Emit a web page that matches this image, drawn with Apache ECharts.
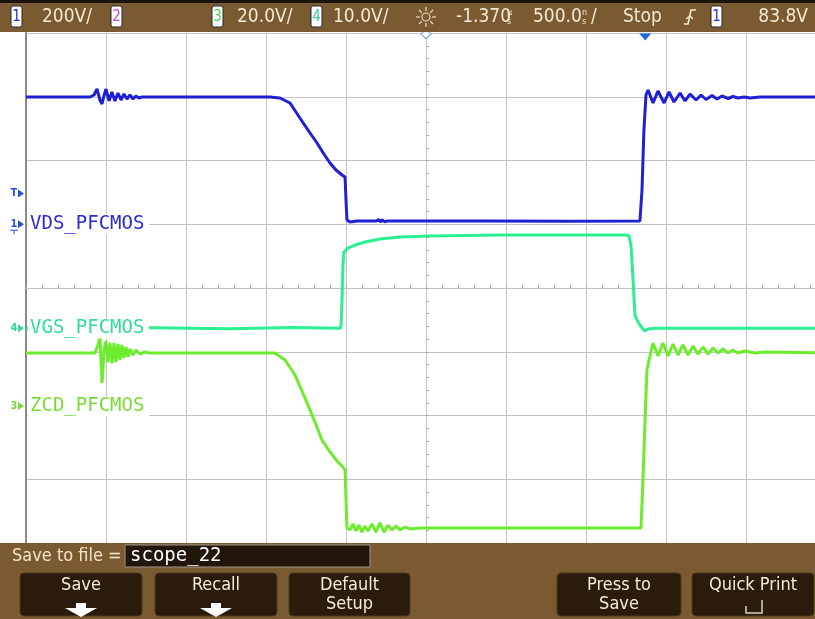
<!DOCTYPE html>
<html><head><meta charset="utf-8">
<script src="https://cdn.jsdelivr.net/npm/echarts@6/dist/echarts.min.js"></script>
<style>html,body{margin:0;padding:0;background:#fff}#c{width:815px;height:619px}</style>
</head><body><div id="c"></div>
<script>
// ---- scope settings ----
const timePerDiv = 0.5;                          // µs (500 ns/div)
const timeMin = -3.87;                           // µs at left edge (delay -1.370 µs)
const visibleDivs = 9.8625;                      // screen is cut at the right edge
const timeMax = timeMin + visibleDivs * timePerDiv;
const ch1Scale = 200, ch4Scale = 10, ch3Scale = 20;   // V/div
const ch1Offset = 5.0, ch4Offset = 3.37, ch3Offset = 2.15; // ground position, div from bottom
const triggerLevel = 83.8;   // V on channel 1
const channelLabels = ['VDS_PFCMOS', 'VGS_PFCMOS', 'ZCD_PFCMOS'];
const topInfo = ['200V/', '20.0V/', '10.0V/', '-1.370', '500.0', 'Stop', '83.8V'];
const softKeys = [['Save', ''], ['Recall', ''], ['Default', 'Setup'], ['Press to', 'Save'], ['Quick Print', '']];
const fileName = 'scope_22';

// ---- waveforms: [time µs, volts] ----
const vds = [[-3.870,399.2],[-3.470,399.2],[-3.445,405.5],[-3.426,424.3],[-3.408,389.8],[-3.395,377.2],[-3.383,402.4],[-3.370,424.3],[-3.351,386.7],[-3.333,415.0],[-3.314,386.7],[-3.295,411.7],[-3.276,389.8],[-3.258,408.6],[-3.239,392.9],[-3.220,405.5],[-3.201,392.9],[-3.183,402.4],[-3.164,396.1],[-3.145,399.2],
[-2.345,399.2],[-2.283,396.1],[-2.220,380.4],[-2.158,333.3],[-2.108,295.7],[-2.051,254.9],[-2.008,220.4],[-1.970,192.2],[-1.933,170.3],[-1.895,154.6],[-1.876,148.3],[-1.870,76.1],[-1.864,13.3],[-1.845,7.1],[-1.800,10.2],[-1.680,10.2],[-1.665,15.0],[-1.655,7.0],[-1.645,14.0],[-1.630,8.0],[-1.610,10.2],[-1.000,10.2],[-0.500,9.5],[-0.033,10.2],
[-0.020,107.5],[-0.008,295.7],[0.005,405.5],[0.018,421.2],[0.049,380.4],[0.080,418.1],[0.118,380.4],[0.149,415.0],[0.180,383.5],[0.218,411.7],[0.249,386.7],[0.280,408.6],[0.318,389.8],[0.349,405.5],[0.380,391.4],[0.418,403.9],[0.449,392.9],[0.480,402.4],[0.518,394.5],[0.549,400.8],[0.580,396.1],[0.618,399.2],[0.655,396.1],[0.718,399.2],[1.130,399.2]];

const vgs = [[-3.870,0.0],[-3.20,0.1],[-2.60,-0.1],[-2.20,0.1],[-1.907,0.0],[-1.901,0.34],[-1.895,4.4],[-1.889,9.9],[-1.883,11.95],[-1.858,12.57],[-1.814,13.04],[-1.751,13.52],[-1.658,13.99],[-1.533,14.3],[-1.345,14.46],[-0.908,14.61],[-0.283,14.61],[-0.120,14.61],[-0.101,14.46],[-0.089,13.04],[-0.076,7.55],[-0.064,2.06],[-0.045,0.97],[-0.020,0.0],[-0.001,-0.45],[0.018,-0.13],[0.061,0.0],[1.130,0.0]];

const zcd = [[-3.870,16.61],[-3.439,16.61],[-3.420,19.11],[-3.408,21.30],[-3.401,14.41],[-3.395,7.20],[-3.389,11.27],[-3.383,17.55],[-3.370,20.38],[-3.358,13.78],[-3.345,19.74],[-3.333,13.47],[-3.320,19.74],[-3.308,13.78],[-3.295,19.43],[-3.283,14.41],[-3.270,19.11],[-3.258,15.04],[-3.245,18.49],[-3.233,15.35],[-3.220,17.86],[-3.201,15.98],[-3.183,17.55],[-3.158,16.29],[-3.126,16.93],[-3.095,16.61],
[-2.314,16.61],[-2.251,14.41],[-2.189,9.71],[-2.126,2.49],[-2.064,-5.04],[-2.020,-10.68],[-1.970,-14.45],[-1.926,-17.27],[-1.889,-19.15],[-1.876,-20.10],[-1.870,-29.50],[-1.864,-38.30],[-1.845,-38.90],[-1.826,-37.00],[-1.808,-39.20],[-1.789,-37.40],[-1.770,-39.60],[-1.751,-37.70],[-1.733,-39.20],[-1.708,-37.00],[-1.683,-39.60],[-1.658,-36.70],[-1.633,-39.60],[-1.608,-37.40],[-1.583,-38.90],[-1.558,-37.70],[-1.533,-38.90],[-1.501,-38.00],[-1.470,-38.60],[-1.408,-38.30],[-0.026,-38.30],
[-0.014,-23.20],[-0.001,-4.40],[0.011,11.27],[0.024,14.41],[0.049,19.74],[0.080,15.67],[0.111,19.74],[0.143,15.67],[0.174,19.43],[0.205,15.98],[0.236,19.11],[0.268,15.98],[0.299,18.80],[0.330,16.29],[0.361,18.49],[0.393,16.29],[0.424,18.18],[0.455,16.61],[0.486,17.86],[0.518,16.61],[0.549,17.55],[0.580,16.61],[0.624,17.24],[0.686,16.61],[0.749,16.93],[1.130,16.61]];

// ---- chart ----
const BLUE = '#1f1fd6', MINT = '#2cef90', LIME = '#6cec2c';
const GRIDC = '#c4c4c4';
const NARROW = "'Liberation Sans Narrow','DejaVu Sans Condensed',sans-serif";
const MONO = "'DejaVu Sans Mono',monospace";
const chart = echarts.init(document.getElementById('c'), null, {renderer: 'canvas'});
const hiddenY = (off, sc) => ({type: 'value', min: -off * sc, max: (8 - off) * sc, show: false, splitLine: {show: false}});
chart.setOption({
  animation: false,
  backgroundColor: '#ffffff',
  grid: {left: 26, top: 33, right: 0, height: 510, show: false},
  xAxis: [
    {type: 'value', min: timeMin, max: timeMax, show: false, splitLine: {show: false}},
    {type: 'value', min: -5, max: visibleDivs - 5, interval: 1, position: 'bottom',
      axisLabel: {show: false}, splitLine: {show: true, lineStyle: {color: GRIDC, width: 1}},
      axisLine: {show: true, onZero: true, onZeroAxisIndex: 0, lineStyle: {color: GRIDC, width: 1}},
      axisTick: {show: true, inside: true, length: 3, lineStyle: {color: '#a8a8a8'}},
      minorTick: {show: true, splitNumber: 5, length: 3, lineStyle: {color: '#a8a8a8'}}}
  ],
  yAxis: [
    {type: 'value', min: -4, max: 4, interval: 1,
      axisLabel: {show: false}, splitLine: {show: true, lineStyle: {color: GRIDC, width: 1}},
      axisLine: {show: true, onZero: true, onZeroAxisIndex: 1, lineStyle: {color: GRIDC, width: 1}},
      axisTick: {show: true, inside: true, length: 3, lineStyle: {color: '#a8a8a8'}},
      minorTick: {show: true, splitNumber: 5, length: 3, lineStyle: {color: '#a8a8a8'}}},
    hiddenY(ch1Offset, ch1Scale),
    hiddenY(ch4Offset, ch4Scale),
    hiddenY(ch3Offset, ch3Scale),
    {type: 'value', min: 0, max: 1, position: 'left', axisLabel: {show: false}, axisTick: {show: false}, splitLine: {show: false},
      axisLine: {show: true, onZero: false, lineStyle: {color: '#8a8a8a', width: 2}}}
  ],
  series: [
    {name: channelLabels[2], type: 'line', xAxisIndex: 0, yAxisIndex: 3, data: zcd, showSymbol: false, lineStyle: {color: LIME, width: 3}, z: 3},
    {name: channelLabels[1], type: 'line', xAxisIndex: 0, yAxisIndex: 2, data: vgs, showSymbol: false, lineStyle: {color: MINT, width: 3}, z: 4},
    {name: channelLabels[0], type: 'line', xAxisIndex: 0, yAxisIndex: 1, data: vds, showSymbol: false, lineStyle: {color: BLUE, width: 3}, z: 5,
      markPoint: {silent: true, label: {show: false}, data: [
        {coord: [0, (8 - ch1Offset) * ch1Scale], symbol: 'triangle', symbolRotate: 180, symbolSize: [12, 7], symbolOffset: [0, 4], itemStyle: {color: '#2266dd'}},
        {coord: [timeMin + 5 * timePerDiv, (8 - ch1Offset) * ch1Scale], symbol: 'diamond', symbolSize: [10, 9], symbolOffset: [0, 1], itemStyle: {color: '#ffffff', borderColor: '#5c8fdc', borderWidth: 1}}
      ]}}
  ]
});

// ---- decorations (positions derived from the axes) ----
const yPix = (axis, v) => chart.convertToPixel({yAxisIndex: axis}, v);
const g = [];
const BAR = '#7a5a30', TXT = '#f3e8d2';
// top bar
g.push({type: 'rect', z: 100, shape: {x: 0, y: 0, width: 815, height: 32}, style: {fill: BAR}});
g.push({type: 'rect', z: 100, shape: {x: 0, y: 0, width: 815, height: 3}, style: {fill: '#1b120a'}});
function chBox(x, d, col) {
  g.push({type: 'rect', z: 101, shape: {x: x, y: 6, width: 11, height: 21, r: 2}, style: {fill: '#ffffff', stroke: '#2a2a2a', lineWidth: 1}});
  g.push({type: 'text', z: 102, x: x + 5.5, y: 17, style: {text: d, fill: col, font: '15px ' + NARROW, textAlign: 'center', textVerticalAlign: 'middle'}});
}
chBox(11, '1', '#2233e0'); chBox(111, '2', '#cc44dd'); chBox(212, '3', '#55cc55'); chBox(311, '4', '#33ccaa'); chBox(711, '1', '#2233e0');
function topText(x, t, align) {
  g.push({type: 'text', z: 102, x: x, y: 17, style: {text: t, fill: TXT, font: '19px ' + NARROW, textAlign: align || 'left', textVerticalAlign: 'middle'}});
}
topText(42, topInfo[0]); topText(237, topInfo[1]); topText(333, topInfo[2]);
topText(456, topInfo[3]); topText(533, topInfo[4]); topText(623, topInfo[5]); topText(808, topInfo[6], 'right');
g.push({type: 'text', z: 102, x: 507, y: 17, style: {text: 'µ\ns', fill: TXT, font: '9px ' + NARROW, lineHeight: 9, textAlign: 'left', textVerticalAlign: 'middle'}});
g.push({type: 'text', z: 102, x: 582, y: 17, style: {text: 'n\ns', fill: TXT, font: '9px ' + NARROW, lineHeight: 9, textAlign: 'left', textVerticalAlign: 'middle'}});
topText(591, '/');
// sun icon
g.push({type: 'circle', z: 102, shape: {cx: 426, cy: 17, r: 4}, style: {fill: 'none', stroke: '#e6dcc4', lineWidth: 1.2}});
for (let k = 0; k < 8; k++) {
  const a = k * Math.PI / 4;
  g.push({type: 'line', z: 102, shape: {x1: 426 + 6 * Math.cos(a), y1: 17 + 6 * Math.sin(a), x2: 426 + 10 * Math.cos(a), y2: 17 + 10 * Math.sin(a)}, style: {stroke: '#e6dcc4', lineWidth: 1.2}});
}
// trigger edge icon
g.push({type: 'polyline', z: 102, shape: {points: [[684, 24], [688, 24], [691, 10], [696, 10]]}, style: {stroke: TXT, lineWidth: 1.6, fill: 'none'}});
g.push({type: 'polyline', z: 102, shape: {points: [[686, 19], [690, 16], [693, 19]]}, style: {stroke: TXT, lineWidth: 1.4, fill: 'none'}});

// left-edge channel markers + labels
function chMarker(txt, col, y) {
  g.push({type: 'text', z: 60, x: 14, y: y, style: {text: txt, fill: col, font: 'bold 11px ' + NARROW, textAlign: 'center', textVerticalAlign: 'middle'}});
  g.push({type: 'polygon', z: 60, shape: {points: [[18, y - 4], [24, y], [18, y + 4]]}, style: {fill: col}});
}
function chLabel(txt, col, y) {
  g.push({type: 'rect', z: 59, shape: {x: 28, y: y - 10, width: 121, height: 20}, style: {fill: '#ffffff'}});
  g.push({type: 'text', z: 60, x: 30, y: y, style: {text: txt, fill: col, font: '19px ' + MONO, textAlign: 'left', textVerticalAlign: 'middle'}});
}
const y1 = yPix(1, 0), y4 = yPix(2, 0), y3 = yPix(3, 0), yT = yPix(1, triggerLevel);
chMarker('T', '#2a4fd8', yT - 4);
chMarker('1', '#2a4fd8', y1);
g.push({type: 'line', z: 60, shape: {x1: 10, y1: y1 + 6, x2: 18, y2: y1 + 6}, style: {stroke: '#2a4fd8', lineWidth: 1}});
g.push({type: 'line', z: 60, shape: {x1: 14, y1: y1 + 6, x2: 14, y2: y1 + 10}, style: {stroke: '#2a4fd8', lineWidth: 1}});
chMarker('4', '#33d69a', y4);
chMarker('3', '#7ad83a', y3);
chLabel(channelLabels[0], '#2b2bd2', y1);
chLabel(channelLabels[1], '#30dc96', y4);
chLabel(channelLabels[2], '#78dc34', y3);

// bottom soft-key bar
g.push({type: 'rect', z: 100, shape: {x: 0, y: 543, width: 815, height: 76}, style: {fill: BAR}});
g.push({type: 'text', z: 102, x: 12, y: 556, style: {text: 'Save to file =', fill: '#f1e4c8', font: '18px ' + NARROW, textAlign: 'left', textVerticalAlign: 'middle'}});
g.push({type: 'rect', z: 101, shape: {x: 125, y: 545, width: 245, height: 22}, style: {fill: '#22160b', stroke: '#9c948a', lineWidth: 1}});
g.push({type: 'text', z: 102, x: 130, y: 556, style: {text: fileName, fill: '#ffffff', font: '19px ' + MONO, textAlign: 'left', textVerticalAlign: 'middle'}});
const keyBoxes = [[20, 122], [155, 122], [289, 121], [557, 124], [692, 122]];
keyBoxes.forEach((b, i) => {
  g.push({type: 'rect', z: 101, shape: {x: b[0], y: 573, width: b[1], height: 43, r: 4}, style: {fill: '#2a1b0d', stroke: '#4e381c', lineWidth: 1}});
  const cx = b[0] + b[1] / 2;
  g.push({type: 'text', z: 102, x: cx, y: 585, style: {text: softKeys[i][0], fill: '#f2ece0', font: '18px ' + NARROW, textAlign: 'center', textVerticalAlign: 'middle'}});
  if (softKeys[i][1]) g.push({type: 'text', z: 102, x: cx, y: 604, style: {text: softKeys[i][1], fill: '#f2ece0', font: '18px ' + NARROW, textAlign: 'center', textVerticalAlign: 'middle'}});
  if (i < 2) g.push({type: 'polygon', z: 102, shape: {points: [[cx - 5, 603], [cx + 5, 603], [cx + 5, 608], [cx + 16, 608], [cx, 617], [cx - 16, 608], [cx - 5, 608]]}, style: {fill: '#ffffff'}});
});
g.push({type: 'polyline', z: 102, shape: {points: [[746, 606], [746, 613], [762, 613], [762, 600]]}, style: {stroke: '#d8d2c8', lineWidth: 1.5, fill: 'none'}});

chart.setOption({graphic: {elements: g}});
</script>
</body></html>
